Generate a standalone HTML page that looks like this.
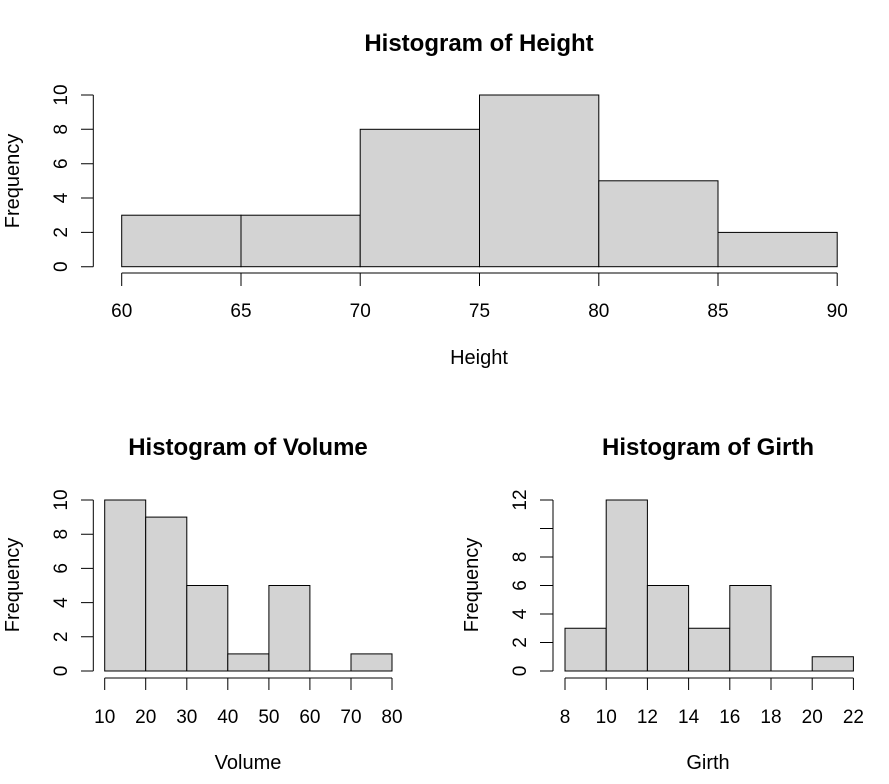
<!DOCTYPE html>
<html><head><style>body{margin:0;background:#fff}svg{display:block}text{font-family:"Liberation Sans",Arial,sans-serif;fill:#000}</style></head><body>
<svg width="889" height="784" xmlns="http://www.w3.org/2000/svg">
<g stroke="#000" stroke-width="1" fill="#d3d3d3">
<rect x="121.7" y="215.2" width="119.3" height="51.5"/>
<rect x="241" y="215.2" width="119.2" height="51.5"/>
<rect x="360.2" y="129.3" width="119.3" height="137.4"/>
<rect x="479.5" y="95" width="119.3" height="171.7"/>
<rect x="598.8" y="180.8" width="119.2" height="85.9"/>
<rect x="718" y="232.4" width="119.2" height="34.3"/>
<rect x="104.7" y="500" width="41" height="171"/>
<rect x="145.7" y="517.1" width="41.1" height="153.9"/>
<rect x="186.8" y="585.5" width="41" height="85.5"/>
<rect x="227.8" y="653.9" width="41.1" height="17.1"/>
<rect x="268.9" y="585.5" width="41" height="85.5"/>
<rect x="351" y="653.9" width="41" height="17.1"/>
<rect x="565" y="628.25" width="41.2" height="42.75"/>
<rect x="606.2" y="500" width="41.2" height="171"/>
<rect x="647.4" y="585.5" width="41.2" height="85.5"/>
<rect x="688.6" y="628.25" width="41.2" height="42.75"/>
<rect x="729.8" y="585.5" width="41.2" height="85.5"/>
<rect x="812.2" y="656.75" width="41.2" height="14.25"/>
</g>
<g stroke="#000" stroke-width="1" fill="none">
<path d="M309.9 671H351 M771 671H812.2"/>
<path d="M93.3 95V266.7 M81 95H93.3 M81 129.3H93.3 M81 163.7H93.3 M81 198H93.3 M81 232.4H93.3 M81 266.7H93.3"/>
<path d="M121.7 273H837.2 M121.7 273v13 M241 273v13 M360.2 273v13 M479.5 273v13 M598.8 273v13 M718 273v13 M837.2 273v13"/>
<path d="M93.3 500V671 M81 500H93.3 M81 534.2H93.3 M81 568.4H93.3 M81 602.6H93.3 M81 636.8H93.3 M81 671H93.3"/>
<path d="M104.7 678H392 M104.7 678v12 M145.7 678v12 M186.8 678v12 M227.8 678v12 M268.9 678v12 M309.9 678v12 M351 678v12 M392 678v12"/>
<path d="M553 500V671 M540 500H553 M540 528.5H553 M540 557H553 M540 585.5H553 M540 614H553 M540 642.5H553 M540 671H553"/>
<path d="M565 678H853.4 M565 678v12 M606.2 678v12 M647.4 678v12 M688.6 678v12 M729.8 678v12 M771 678v12 M812.2 678v12 M853.4 678v12"/>
</g>
<g font-size="24" font-weight="bold" text-anchor="middle">
<text x="479" y="51">Histogram of Height</text>
<text x="248" y="455">Histogram of Volume</text>
<text x="708" y="455">Histogram of Girth</text>
</g>
<g font-size="19" text-anchor="middle">
<text x="121.7" y="317">60</text><text x="241" y="317">65</text><text x="360.2" y="317">70</text><text x="479.5" y="317">75</text><text x="598.8" y="317">80</text><text x="718" y="317">85</text><text x="837.2" y="317">90</text>
<text x="104.7" y="723">10</text><text x="145.7" y="723">20</text><text x="186.8" y="723">30</text><text x="227.8" y="723">40</text><text x="268.9" y="723">50</text><text x="309.9" y="723">60</text><text x="351" y="723">70</text><text x="392" y="723">80</text>
<text x="565" y="723">8</text><text x="606.2" y="723">10</text><text x="647.4" y="723">12</text><text x="688.6" y="723">14</text><text x="729.8" y="723">16</text><text x="771" y="723">18</text><text x="812.2" y="723">20</text><text x="853.4" y="723">22</text>
<text transform="translate(67,266.7) rotate(-90)">0</text>
<text transform="translate(67,232.4) rotate(-90)">2</text>
<text transform="translate(67,198) rotate(-90)">4</text>
<text transform="translate(67,163.7) rotate(-90)">6</text>
<text transform="translate(67,129.3) rotate(-90)">8</text>
<text transform="translate(67,95) rotate(-90)">10</text>
<text transform="translate(67,671) rotate(-90)">0</text>
<text transform="translate(67,636.8) rotate(-90)">2</text>
<text transform="translate(67,602.6) rotate(-90)">4</text>
<text transform="translate(67,568.4) rotate(-90)">6</text>
<text transform="translate(67,534.2) rotate(-90)">8</text>
<text transform="translate(67,500) rotate(-90)">10</text>
<text transform="translate(526,671) rotate(-90)">0</text>
<text transform="translate(526,642.5) rotate(-90)">2</text>
<text transform="translate(526,614) rotate(-90)">4</text>
<text transform="translate(526,585.5) rotate(-90)">6</text>
<text transform="translate(526,557) rotate(-90)">8</text>
<text transform="translate(526,500) rotate(-90)">12</text>
</g>
<g font-size="20" text-anchor="middle">
<text x="479" y="364">Height</text>
<text x="248" y="769">Volume</text>
<text x="708" y="769">Girth</text>
<text transform="translate(19,181) rotate(-90)">Frequency</text>
<text transform="translate(19,585) rotate(-90)">Frequency</text>
<text transform="translate(478,585) rotate(-90)">Frequency</text>
</g>
</svg>
</body></html>
